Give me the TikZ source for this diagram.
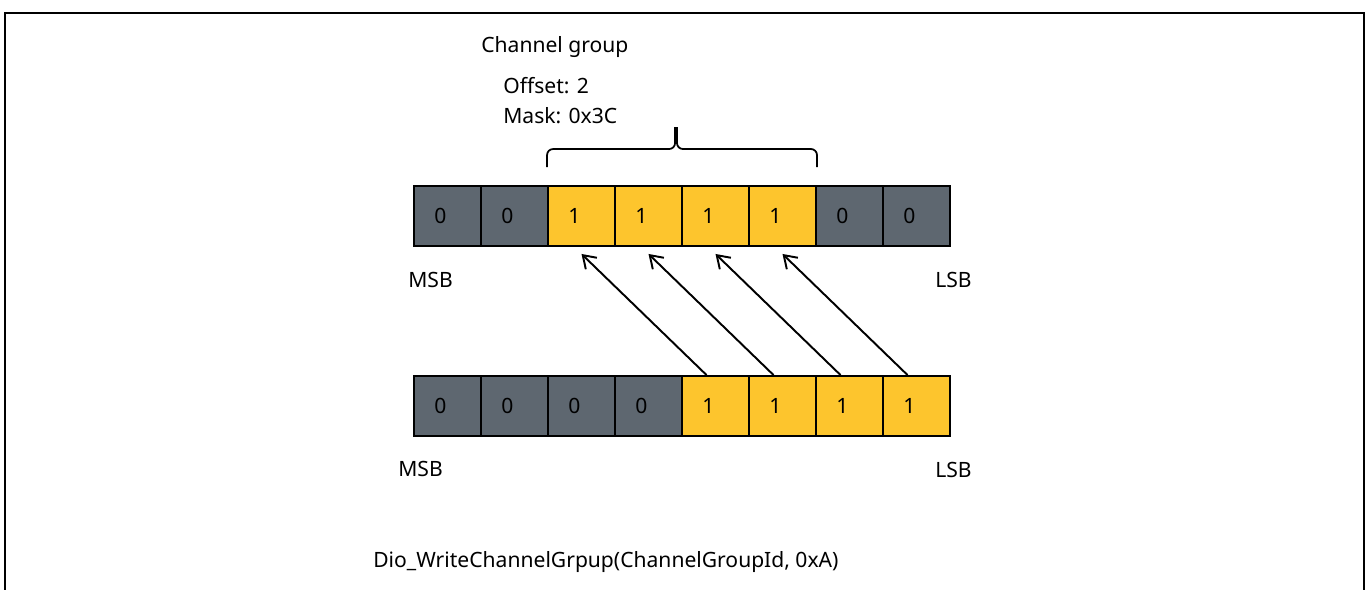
\documentclass[tikz,border=0pt]{standalone}
\usepackage{fontspec}
\setmainfont{Noto Sans}
\usetikzlibrary{arrows.meta}
\definecolor{bitgray}{HTML}{5E6770}
\definecolor{bityellow}{HTML}{FDC52D}

\begin{document}
\begin{tikzpicture}[x=0.02cm,y=-0.02cm,>={Straight Barb[length=0.24cm,width=0.32cm]},
  font=\fontsize{12}{14}\selectfont,
  cell/.style={draw,line width=1.1pt,minimum width=1.34cm,minimum height=1.2cm,inner sep=0pt,
    label={[xshift=-0.14cm]center:#1}},
  txt/.style={anchor=base west,inner sep=0pt}]
\useasboundingbox (0,0) rectangle (1368,590);
\draw[line width=1.2pt] (5,590) -- (5,13) -- (1364,13) -- (1364,590);

% upper register (after the write)
\foreach \v/\c [count=\i] in {0/bitgray,0/bitgray,1/bityellow,1/bityellow,1/bityellow,1/bityellow,0/bitgray,0/bitgray}
  \node[cell=\v,fill=\c] (up\i) at (414+67*\i-33.5,216) {};

% lower register (value 0xA written)
\foreach \v/\c [count=\i] in {0/bitgray,0/bitgray,0/bitgray,0/bitgray,1/bityellow,1/bityellow,1/bityellow,1/bityellow}
  \node[cell=\v,fill=\c] (lo\i) at (414+67*\i-33.5,406) {};

\node[txt] (grp) at (481,53) {Channel group};
\node[txt] (offs) at (503,94) {Offset: 2};
\node[txt] (mask) at (503,124) {Mask: 0x3C};

% brace over the channel group
\draw[line width=1pt,rounded corners=0.12cm] ([yshift=0.36cm]up3.north west) -- ++(0,-18) -- ++(128,0) -- ++(0,-22);
\draw[line width=1pt,rounded corners=0.12cm] ([yshift=0.36cm]up6.north east) -- ++(0,-18) -- ++(-140,0) -- ++(0,-22);

\node[txt] (msbup) at (408,288) {MSB};
\node[txt] (lsbup) at (935,288) {LSB};
\node[txt] (msblo) at (398,477) {MSB};
\node[txt] (lsblo) at (935,478) {LSB};

\foreach \a/\b in {5/3,6/4,7/5,8/6}
  \draw[->,line width=1.1pt] ([xshift=-0.18cm]lo\a.north) -- ([yshift=-0.14cm]up\b.south);

\node[txt] (call) at (373,567) {Dio\_WriteChannelGrpup(ChannelGroupId, 0xA)};
\end{tikzpicture}
\end{document}
